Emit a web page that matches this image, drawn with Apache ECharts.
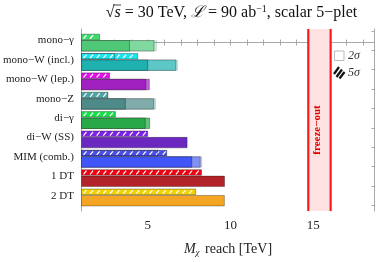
<!DOCTYPE html>
<html><head><meta charset="utf-8">
<script src="https://cdn.jsdelivr.net/npm/echarts@6/dist/echarts.min.js"></script>
<style>html,body{margin:0;padding:0;background:#fff}#c{width:382px;height:262px}</style>
</head><body><div id="c"></div>
<script>
// ---- data ----
const categories = ['mono\u2212\u03b3','mono\u2212W (incl.)','mono\u2212W (lep.)','mono\u2212Z','di\u2212\u03b3','di\u2212W (SS)','MIM (comb.)','1 DT','2 DT'];
const reach5sigma    = [2.1, 4.4, 2.7, 2.6, 3.05, 5.0, 6.15, 8.25, 7.9];
const reach5sigmaLow = [null, 3.0, null, null, null, null, 5.6, null, null];
const reach2sigma    = [3.9, 5.0, 4.88, 3.65, 4.85, 7.38, 7.66, 9.64, 9.63];
const reach2sigmaMid = [5.38, 6.7, 5.1, 5.36, 5.12, null, 8.17, null, null];
const reach2sigmaHigh= [5.54, 6.8, null, 5.48, null, null, 8.27, null, null];
const freezeOut = [14.7, 16.05];
const xRange = [1, 18.7];
const xLabelTicks = [5, 10, 15];

// ---- styles ----
const colSolid = ['#4fc978','#1fb1b0','#a020c0','#4e8a88','#28a848','#6a28c0','#4056f8','#b22228','#f5a524'];
const colLight = ['#80d99e','#5cc7c6','#c060d6','#80adab','#62c07a','#6a28c0','#8090f5','#b22228','#f5a524'];
const colHatch = ['#3ddc6a','#19e6f0','#e010e8','#4aa5a5','#19e04a','#7a22e6','#4b4fe8','#f00010','#f2d200'];
const SERIF = '"Liberation Serif","DejaVu Serif",serif';

const rows = categories.map((c, i) => [i, reach5sigma[i], reach5sigmaLow[i], reach2sigma[i], reach2sigmaMid[i], reach2sigmaHigh[i]]);

function barRender(params, api) {
  const i = api.value(0);
  const base = api.coord([xRange[0], i]);
  const x0 = base[0], yc = base[1];
  const xp = v => api.coord([v, i])[0];
  const ch = [];
  const edge = 'rgba(0,0,0,0.38)';
  const ht = yc - 8.4, hh = 5.6;
  const v5 = api.value(1), v5l = api.value(2);
  const x5 = xp(v5);
  ch.push({type:'rect', shape:{x:x0, y:ht, width:x5 - x0, height:hh}, style:{fill:colHatch[i], stroke:edge, lineWidth:0.8}});
  for (let x = x0 + 2; x + 3 <= x5 - 1; x += 6.6) {
    ch.push({type:'line', shape:{x1:x, y1:ht + hh - 1, x2:x + 3, y2:ht + 1}, style:{stroke:'#fff', lineWidth:1.2}});
  }
  if (v5l != null && !isNaN(v5l)) {
    const xl = xp(v5l);
    ch.push({type:'rect', shape:{x:x0, y:ht, width:xl - x0, height:hh}, style:{fill:'none', stroke:edge, lineWidth:0.8}});
  }
  const st = yc - 2, sh = 10.5;
  const v2 = api.value(3), v2m = api.value(4), v2h = api.value(5);
  if (v2h != null && !isNaN(v2h)) {
    ch.push({type:'rect', shape:{x:x0, y:st, width:xp(v2h) - x0, height:sh}, style:{fill:colLight[i], opacity:0.45, stroke:'rgba(0,0,0,0.25)', lineWidth:0.8}});
  }
  if (v2m != null && !isNaN(v2m)) {
    ch.push({type:'rect', shape:{x:x0, y:st, width:xp(v2m) - x0, height:sh}, style:{fill:colLight[i], stroke:edge, lineWidth:0.8}});
  }
  ch.push({type:'rect', shape:{x:x0, y:st, width:xp(v2) - x0, height:sh}, style:{fill:colSolid[i], stroke:edge, lineWidth:0.8}});
  return {type:'group', children:ch};
}

function bandRender(params, api) {
  const a = api.coord([api.value(0), -0.7]);
  const b = api.coord([api.value(1), 8.7]);
  const xa = a[0], xb = b[0], yt = a[1], yb = b[1];
  return {type:'group', children:[
    {type:'rect', shape:{x:xa, y:yt, width:xb - xa, height:yb - yt}, style:{fill:'#ffe2e2'}},
    {type:'line', shape:{x1:xa, y1:yt, x2:xa, y2:yb}, style:{stroke:'#ff1a1a', lineWidth:2.2}},
    {type:'line', shape:{x1:xb, y1:yt, x2:xb, y2:yb}, style:{stroke:'#ff1a1a', lineWidth:2.2}},
    {type:'text', x:(xa + xb) / 2 - 2.5, y:130, rotation:Math.PI / 2,
      style:{text:'freeze\u2212out', fill:'#e00000', font:'bold 11px ' + SERIF, align:'center', verticalAlign:'middle'}}
  ]};
}

const axisGray = '#a8a8a8';
const chart = echarts.init(document.getElementById('c'), null, {renderer:'canvas'});
chart.setOption({
  animation:false,
  backgroundColor:'#fff',
  grid:[
    {left:81.5, right:7.5, top:29, bottom:51},
    {left:81.5, right:7.5, top:30.8, height:174.6}
  ],
  xAxis:[
    {type:'value', gridIndex:0, min:xRange[0], max:xRange[1], interval:1, position:'bottom',
      axisLine:{lineStyle:{color:axisGray}}, axisTick:{inside:true, length:3, lineStyle:{color:axisGray}},
      splitLine:{show:false},
      axisLabel:{formatter:v => xLabelTicks.indexOf(v) >= 0 ? String(v) : '', color:'#222', fontFamily:SERIF, fontSize:13, margin:8},
      name:'{m|M}{s|\u03c7} reach [TeV]', nameLocation:'middle', nameGap:30,
      nameTextStyle:{color:'#222', fontFamily:SERIF, fontSize:14,
        rich:{m:{fontFamily:SERIF, fontSize:14, fontStyle:'italic', color:'#222'},
              s:{fontFamily:SERIF, fontSize:9, fontStyle:'italic', color:'#222', padding:[7,2,0,0]}}}},
    {type:'value', gridIndex:0, min:xRange[0], max:xRange[1], interval:1, position:'top',
      axisLine:{lineStyle:{color:axisGray}}, axisTick:{inside:true, length:3, lineStyle:{color:axisGray}},
      splitLine:{show:false}, axisLabel:{show:false}},
    {type:'value', gridIndex:1, min:xRange[0], max:xRange[1], show:false}
  ],
  yAxis:[
    {type:'value', gridIndex:0, min:-0.7, max:8.7, inverse:true, position:'left',
      axisLine:{show:true, lineStyle:{color:axisGray}}, axisTick:{show:false}, axisLabel:{show:false}, splitLine:{show:false}},
    {type:'value', gridIndex:0, min:-0.7, max:8.7, inverse:true, position:'right',
      axisLine:{show:true, lineStyle:{color:axisGray}}, axisTick:{show:false}, axisLabel:{show:false}, splitLine:{show:false}},
    {type:'category', gridIndex:1, data:categories, inverse:true, position:'left',
      axisLine:{show:false}, axisTick:{show:false},
      axisLabel:{color:'#222', fontFamily:SERIF, fontSize:11, margin:19}},
    {type:'category', gridIndex:1, data:categories, inverse:true, position:'right',
      axisLine:{show:false}, axisTick:{show:true, inside:true, length:3, lineStyle:{color:axisGray}},
      axisLabel:{show:false}}
  ],
  series:[
    {type:'custom', xAxisIndex:0, yAxisIndex:0, data:[freezeOut], renderItem:bandRender, z:1, silent:true},
    {type:'custom', xAxisIndex:0, yAxisIndex:0, data:rows, renderItem:barRender, z:2, silent:true}
  ],
  graphic:[
    {type:'text', x:231.5, y:13, style:{
      text:'{r|\u221a}{i|s} = 30 TeV, {i|\u2112} = 90 ab{sup|\u22121}, scalar 5\u2212plet',
      font:'16px ' + SERIF, fill:'#111', align:'center', verticalAlign:'middle',
      rich:{r:{fontFamily:SERIF, fontSize:16, fill:'#111'}, i:{fontFamily:SERIF, fontSize:16, fontStyle:'italic', fill:'#111'},
            sup:{fontFamily:SERIF, fontSize:10, fill:'#111', padding:[0,0,8,0]}}}},
    {type:'line', shape:{x1:113, y1:5, x2:121, y2:5}, style:{stroke:'#111', lineWidth:0.8}},
    {type:'rect', shape:{x:334.5, y:51, width:9.5, height:9.5}, style:{fill:'#fff', stroke:'#bbb', lineWidth:1}},
    {type:'text', x:348, y:56, style:{text:'2\u03c3', font:'italic 12px ' + SERIF, fill:'#333', verticalAlign:'middle'}},
    {type:'line', shape:{x1:334, y1:74, x2:339, y2:67}, style:{stroke:'#111', lineWidth:2.2}},
    {type:'line', shape:{x1:336.5, y1:77, x2:342, y2:69.5}, style:{stroke:'#111', lineWidth:2.2}},
    {type:'line', shape:{x1:339.5, y1:78.5, x2:344.5, y2:72}, style:{stroke:'#111', lineWidth:2.2}},
    {type:'text', x:348, y:73, style:{text:'5\u03c3', font:'italic 12px ' + SERIF, fill:'#333', verticalAlign:'middle'}}
  ]
});
</script>
</body></html>
